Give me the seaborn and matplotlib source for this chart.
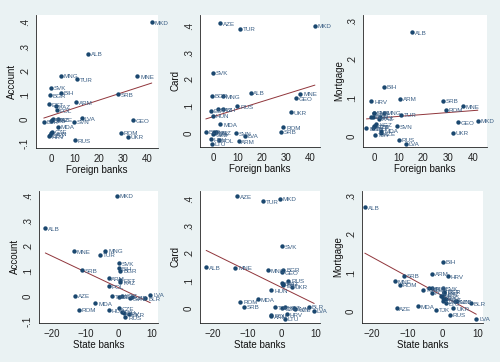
import pandas as pd
import numpy as np
import matplotlib
matplotlib.use("Agg")
import matplotlib.pyplot as plt
import matplotlib.ticker as mticker
import seaborn as sns

# country data
countries = ["MKD", "ALB", "MNE", "MNG", "TUR", "SVK", "BIH", "ARM", "SRB", "ROM",
             "UKR", "GEO", "RUS", "LVA", "SVN", "MDA", "HUN", "AZE", "CZE", "POL",
             "LTU", "HRV", "BGR", "EST", "KAZ", "BLR", "TJK", "KGZ", "UZB"]
foreign = [42, 15.5, 36, 4, 11, 0, 4, 10.5, 28, 29,
           32, 34, 10, 13, 9.5, 3, 0, 3, 0.5, 2.5,
           -0.5, -1, -0.5, -1, 2, -3, 0.5, 1, 0]
state = [-0.5, -22, -13.5, -4, -5.5, 0, 0, -3, -11, -12,
         3, 0, 2, 9.5, 3.5, -7, -3, -13, 0, -3,
         1, 1.5, 0.5, 0.5, 0.5, 8, -2, 1, 4]
account = [0.40, 0.27, 0.178, 0.18, 0.165, 0.13, 0.11, 0.07, 0.103, -0.055,
           -0.072, -0.003, -0.085, 0.005, -0.01, -0.03, -0.058, 0.0, -0.05, 0.038,
           -0.065, -0.07, 0.10, 0.063, 0.055, -0.01, -0.002, 0.0, -0.005]
card = [0.40, 0.15, 0.147, 0.137, 0.39, 0.225, 0.09, -0.03, 0.005, 0.022,
        0.078, 0.13, 0.10, -0.01, 0.0, 0.032, 0.065, 0.41, 0.0, -0.027,
        -0.04, -0.022, 0.14, 0.083, 0.088, 0.005, 0.002, 0.003, -0.005]
mortgage = [0.04, 0.27, 0.077, 0.06, 0.055, 0.06, 0.128, 0.097, 0.092, 0.068,
            0.008, 0.035, -0.01, -0.02, 0.025, 0.013, 0.06, 0.007, 0.025, 0.048,
            0.02, 0.09, 0.05, 0.05, 0.045, 0.02, 0.003, 0.03, 0.025]

df = pd.DataFrame({"country": countries, "Foreign banks": foreign, "State banks": state,
                   "Account": account, "Card": card, "Mortgage": mortgage})

sns.set_style("white")
plt.rcParams["font.family"] = ["Liberation Sans", "DejaVu Sans"]

navy = "#1a476f"
red = "#90353b"
bg = "#eaf2f3"

fig = plt.figure(figsize=(5, 3.62), dpi=100, facecolor=bg)

panels = [
    ("Foreign banks", "Account", [0.072, 0.591, 0.244, 0.367], (-6.25, 44.6), (-0.118, 0.429), [0, 10, 20, 30, 40], [-0.1, 0, 0.1, 0.2, 0.3, 0.4]),
    ("Foreign banks", "Card", [0.40, 0.594, 0.24, 0.365], (-5.4, 44.1), (-0.052, 0.441), [0, 10, 20, 30, 40], [0, 0.1, 0.2, 0.3, 0.4]),
    ("Foreign banks", "Mortgage", [0.726, 0.594, 0.248, 0.365], (-4.4, 45.7), (-0.029, 0.316), [0, 10, 20, 30, 40], [0, 0.1, 0.2, 0.3]),
    ("State banks", "Account", [0.078, 0.108, 0.238, 0.365], (-23.9, 11.8), (-0.108, 0.42), [-20, -10, 0, 10], [-0.1, 0, 0.1, 0.2, 0.3, 0.4]),
    ("State banks", "Card", [0.40, 0.108, 0.24, 0.365], (-23.8, 11.2), (-0.055, 0.429), [-20, -10, 0, 10], [0, 0.1, 0.2, 0.3, 0.4]),
    ("State banks", "Mortgage", [0.724, 0.108, 0.242, 0.365], (-22.8, 11.4), (-0.031, 0.313), [-20, -10, 0, 10], [0, 0.1, 0.2, 0.3]),
]


def stata_fmt(v, pos):
    s = f"{v:g}"
    if s.startswith("0."):
        s = s[1:]
    elif s.startswith("-0."):
        s = "-" + s[2:]
    return s


for xcol, ycol, rect, xlim, ylim, xt, yt in panels:
    ax = fig.add_axes(rect)
    ax.set_facecolor("white")
    sns.regplot(data=df, x=xcol, y=ycol, scatter=False, ci=None, truncate=True,
                line_kws={"color": red, "lw": 0.7}, ax=ax)
    sns.scatterplot(data=df, x=xcol, y=ycol, color=navy, s=10, linewidth=0, ax=ax, zorder=3)
    for _, r in df.iterrows():
        ax.annotate(r["country"], (r[xcol], r[ycol]), xytext=(2, -0.8), textcoords="offset points",
                    fontsize=4.5, color="#3b5f85", va="center", ha="left")
    ax.set_xlim(*xlim)
    ax.set_ylim(*ylim)
    ax.set_xticks(xt)
    ax.set_yticks(yt)
    ax.yaxis.set_major_formatter(mticker.FuncFormatter(stata_fmt))
    ax.tick_params(axis="both", direction="out", length=3, width=0.6, colors="#222222", labelsize=7, pad=1.5)
    for lab in ax.get_yticklabels():
        lab.set_rotation(90)
        lab.set_va("center")
    for sp in ["top", "right"]:
        ax.spines[sp].set_visible(False)
    for sp in ["left", "bottom"]:
        ax.spines[sp].set_color("#222222")
        ax.spines[sp].set_linewidth(0.6)
    ax.set_xlabel(xcol, fontsize=7, labelpad=0.5, color="#111111")
    ax.set_ylabel(ycol, fontsize=7, labelpad=2, color="#111111")

fig.savefig("out.png", dpi=100, facecolor=bg)
